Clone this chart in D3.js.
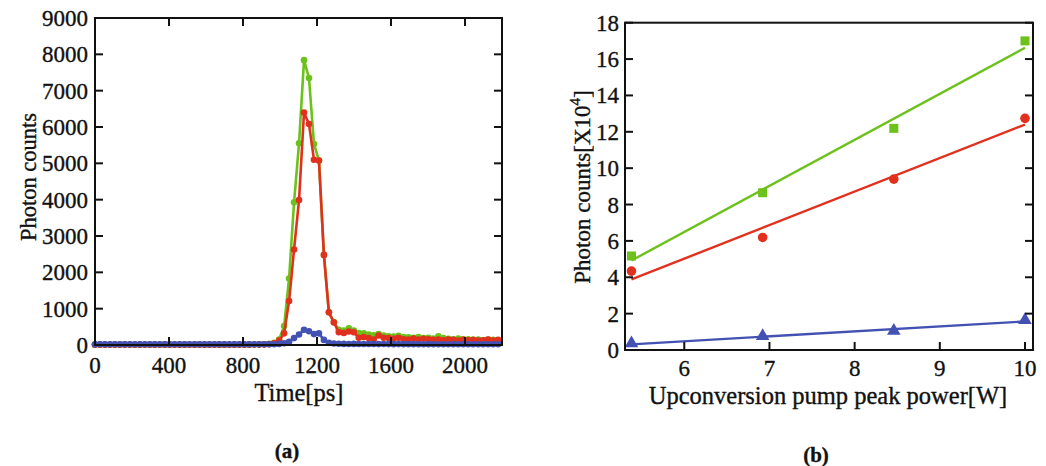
<!DOCTYPE html>
<html>
<head>
<meta charset="utf-8">
<script src="https://cdn.jsdelivr.net/npm/d3@7"></script>
<style>
    body { margin: 0; background: #fff; }
    svg text { font-family: "Liberation Serif", "Times New Roman", serif; fill: #111; stroke: #111; stroke-width: 0.35px; }
</style>
</head>
<body>
<svg id="chart" width="1046" height="466"></svg>
<script>
// ---- panel (a): time-resolved photon counts, one value per time bin ----
const binWidth = 26.9; // ps
const timeTicks = [0, 400, 800, 1200, 1600, 2000];
const countTicks = [0, 1000, 2000, 3000, 4000, 5000, 6000, 7000, 8000, 9000];

const greenCounts = [
    10, 12, 8, 10, 11, 9, 12, 10, 8, 10, 12, 9, 10, 11, 10, 9, 12, 10,
    8, 11, 10, 12, 9, 10, 11, 10, 9, 12, 10, 11, 10, 12, 14, 16, 20,
    30, 60, 150, 520, 1830, 3930, 5550, 7840, 7350, 5530, 5080, 2480, 900, 630,
    420, 400, 460, 400, 330, 320, 290, 270, 300, 260, 240, 230, 250, 220, 210,
    200, 220, 190, 200, 180, 240, 190, 170, 160, 180, 150, 160, 140, 150, 130,
    150, 140, 130
];
const redCounts = [
    8, 10, 9, 7, 10, 8, 9, 10, 8, 9, 7, 10, 9, 8, 10, 9, 8, 10,
    9, 8, 10, 9, 7, 10, 8, 9, 10, 8, 9, 10, 9, 10, 12, 14, 16,
    20, 50, 120, 320, 1210, 2630, 3990, 6400, 6080, 5100, 5080, 2480, 900, 620,
    350, 330, 370, 350, 200, 220, 190, 150, 260, 200, 190, 170, 200, 160, 150,
    180, 150, 170, 160, 140, 150, 130, 150, 140, 120, 150, 130, 140, 120, 130,
    150, 120, 140
];
const blueCounts = [
    18, 20, 19, 18, 20, 19, 18, 20, 19, 18, 20, 19, 18, 20, 19, 18, 20, 19,
    18, 20, 19, 18, 20, 19, 18, 20, 19, 18, 20, 19, 18, 20, 19, 18, 20,
    20, 22, 30, 50, 90, 190, 290, 420, 380, 300, 320, 140, 60, 40,
    35, 30, 28, 30, 27, 28, 26, 27, 25, 26, 25, 24, 25, 24, 23,
    24, 23, 22, 23, 22, 21, 22, 21, 22, 21, 20, 21, 20, 21, 20,
    20, 21, 20
];

// ---- panel (b): integrated counts vs pump power ----
const pumpPower = [5.38, 6.92, 8.46, 10.0];
const greenTotal = [5.17, 8.65, 12.19, 17.0];
const redTotal = [4.34, 6.19, 9.40, 12.74];
const blueTotal = [0.37, 0.77, 1.06, 1.65];
const fitPower = [5.38, 10.0];
const greenFit = [4.92, 16.62];
const redFit = [3.88, 12.40];
const blueFit = [0.31, 1.57];
const powerTicks = [6, 7, 8, 9, 10];
const totalTicks = [0, 2, 4, 6, 8, 10, 12, 14, 16, 18];

const GREEN = "#6cc11a", RED = "#e2301e", BLUE = "#4352b2";

const svg = d3.select("#chart");

// draws a framed box with inward ticks
function drawFrame(g, x, y, xTicks, yTicks, topTicks) {
    const [x0, x1] = x.range();
    const [y0, y1] = y.range(); // y0 bottom, y1 top
    const tl = 8;
    const axis = g.append("g").attr("stroke", "#111").attr("stroke-width", 2);
    xTicks.forEach(t => {
        axis.append("line").attr("x1", x(t)).attr("x2", x(t)).attr("y1", y0).attr("y2", y0 - tl);
        if (topTicks) axis.append("line").attr("x1", x(t)).attr("x2", x(t)).attr("y1", y1).attr("y2", y1 + tl);
    });
    yTicks.forEach(t => {
        axis.append("line").attr("x1", x0).attr("x2", x0 + tl).attr("y1", y(t)).attr("y2", y(t));
        axis.append("line").attr("x1", x1).attr("x2", x1 - tl).attr("y1", y(t)).attr("y2", y(t));
    });
    g.append("rect")
        .attr("x", x0).attr("y", y1)
        .attr("width", x1 - x0).attr("height", y0 - y1)
        .attr("fill", "none").attr("stroke", "#111").attr("stroke-width", 2);
}

// ---------------- panel (a) ----------------
const xa = d3.scaleLinear().domain([0, 2200]).range([95, 502]);
const ya = d3.scaleLinear().domain([0, 9000]).range([345, 18]);
const ga = svg.append("g");

const lineA = d3.line()
    .x((d, i) => xa(i * binWidth))
    .y(d => ya(d));

[[greenCounts, GREEN], [redCounts, RED], [blueCounts, BLUE]].forEach(([vals, color]) => {
    ga.append("path")
        .datum(vals)
        .attr("d", lineA)
        .attr("fill", "none")
        .attr("stroke", color)
        .attr("stroke-width", 2.6);
    ga.selectAll(null)
        .data(vals)
        .enter().append("circle")
        .attr("cx", (d, i) => xa(i * binWidth))
        .attr("cy", d => ya(d))
        .attr("r", 3.3)
        .attr("fill", color);
});

drawFrame(ga, xa, ya, timeTicks, countTicks, true);

ga.selectAll(".xt")
    .data(timeTicks)
    .enter().append("text")
    .attr("x", d => xa(d))
    .attr("y", 373)
    .attr("text-anchor", "middle")
    .attr("font-size", 23)
    .text(d => d);

ga.selectAll(".yt")
    .data(countTicks)
    .enter().append("text")
    .attr("x", 88)
    .attr("y", d => ya(d) + 8)
    .attr("text-anchor", "end")
    .attr("font-size", 23)
    .text(d => d);

ga.append("text")
    .attr("x", 299).attr("y", 401)
    .attr("text-anchor", "middle")
    .attr("font-size", 24.5)
    .text("Time[ps]");

ga.append("text")
    .attr("transform", "translate(36,177) rotate(-90)")
    .attr("text-anchor", "middle")
    .attr("font-size", 22.5)
    .text("Photon counts");

ga.append("text")
    .attr("x", 287).attr("y", 458)
    .attr("text-anchor", "middle")
    .attr("font-size", 21)
    .attr("font-weight", "bold")
    .text("(a)");

// ---------------- panel (b) ----------------
const xb = d3.scaleLinear().domain([5.304, 10.094]).range([625, 1033]);
const yb = d3.scaleLinear().domain([0, 18]).range([350, 22.7]);
const gb = svg.append("g");

const lineB = d3.line()
    .x((d, i) => xb(fitPower[i]))
    .y(d => yb(d));

[[greenFit, GREEN], [redFit, RED], [blueFit, BLUE]].forEach(([vals, color]) => {
    gb.append("path")
        .datum(vals)
        .attr("d", lineB)
        .attr("fill", "none")
        .attr("stroke", color)
        .attr("stroke-width", 2.4);
});

gb.selectAll(null)
    .data(greenTotal)
    .enter().append("rect")
    .attr("x", (d, i) => xb(pumpPower[i]) - 4.5)
    .attr("y", d => yb(d) - 4.5)
    .attr("width", 9).attr("height", 9)
    .attr("fill", GREEN);

gb.selectAll(null)
    .data(redTotal)
    .enter().append("circle")
    .attr("cx", (d, i) => xb(pumpPower[i]))
    .attr("cy", d => yb(d))
    .attr("r", 4.8)
    .attr("fill", RED);

const tri = d3.symbol().type(d3.symbolTriangle).size(80);
gb.selectAll(null)
    .data(blueTotal)
    .enter().append("path")
    .attr("d", tri)
    .attr("transform", (d, i) => `translate(${xb(pumpPower[i])},${yb(d)})`)
    .attr("fill", BLUE);

drawFrame(gb, xb, yb, powerTicks, totalTicks, false);

gb.selectAll(".xt")
    .data(powerTicks)
    .enter().append("text")
    .attr("x", d => xb(d))
    .attr("y", 376)
    .attr("text-anchor", "middle")
    .attr("font-size", 23)
    .text(d => d);

gb.selectAll(".yt")
    .data(totalTicks)
    .enter().append("text")
    .attr("x", 619)
    .attr("y", d => yb(d) + 8)
    .attr("text-anchor", "end")
    .attr("font-size", 23)
    .text(d => d);

gb.append("text")
    .attr("x", 828).attr("y", 404)
    .attr("text-anchor", "middle")
    .attr("font-size", 24.5)
    .text("Upconversion pump peak power[W]");

const yLab = gb.append("text")
    .attr("transform", "translate(590,187) rotate(-90)")
    .attr("text-anchor", "middle")
    .attr("font-size", 23);
yLab.append("tspan").text("Photon counts[X10");
yLab.append("tspan").attr("font-size", 15).attr("dy", -10).text("4");
yLab.append("tspan").attr("dy", 10).text("]");

gb.append("text")
    .attr("x", 816).attr("y", 462)
    .attr("text-anchor", "middle")
    .attr("font-size", 21)
    .attr("font-weight", "bold")
    .text("(b)");
</script>
</body>
</html>
